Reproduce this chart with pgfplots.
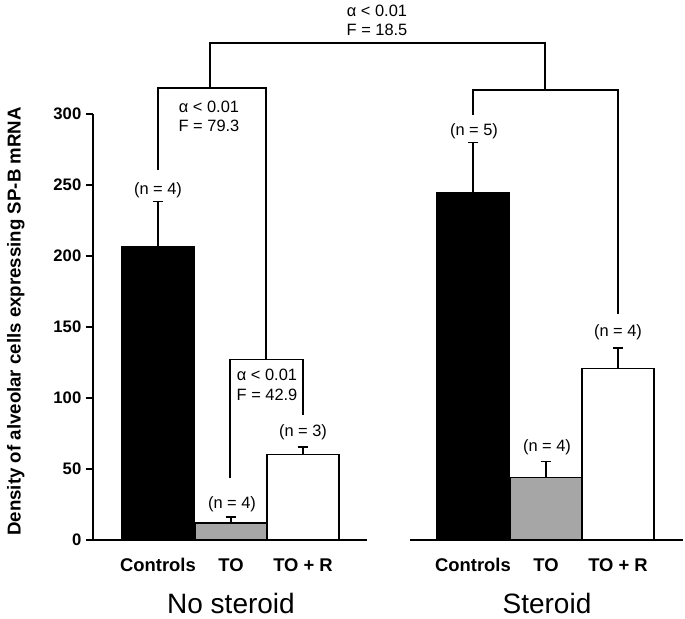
\documentclass[border=0pt]{standalone}
\usepackage{fontspec}
\setmainfont{Liberation Sans}
\usepackage{pgfplots}
\pgfplotsset{compat=1.18}
\definecolor{toGray}{HTML}{A6A6A6}
\newcommand{\ann}{\fontsize{12.3}{14}\selectfont}
\begin{document}
\begin{tikzpicture}
\begin{axis}[
  scale only axis,
  width=442.5pt, height=319.5pt,
  xmin=93, xmax=683, ymin=0, ymax=300,
  clip=false,
  axis y line*=left,
  axis x line*=bottom,
  x axis line style={draw=none},
  axis line style={line width=0.8pt, black},
  ytick={0,50,...,300},
  tick align=outside,
  major tick length=5.25pt,
  major y tick style={line width=0.8pt, black},
  major x tick style={draw=none},
  xtick={158,231,303,473,546,618},
  xticklabels={Controls,TO,TO + R,Controls,TO,TO + R},
  xticklabel style={anchor=base, yshift=-18pt, font=\fontsize{13.8}{16}\selectfont\bfseries},
  /pgf/number format/assume math mode=true,
  yticklabel style={font=\fontsize{12.5}{14}\selectfont\bfseries},
  ylabel={Density of alveolar cells expressing SP-B mRNA},
  ylabel style={at={(axis description cs:-0.1225,0.513)}, anchor=base, font=\fontsize{14}{16}\selectfont\bfseries},
  ybar, bar shift=0pt, bar width=72,
  error bars/y dir=plus, error bars/y explicit,
  error bars/error mark=-,
  error bars/error mark options={rotate=90, mark size=4.1pt, line width=0.8pt, black},
  error bars/error bar style={line width=0.8pt, black},
]
% Controls
\addplot[fill=black, draw=black, line width=0.8pt] coordinates {(158,206.6) +- (0,32.1) (473,244.6) +- (0,35.2)};
% TO
\addplot[fill=toGray, draw=black, line width=0.8pt] coordinates {(231,12.0) +- (0,4.2) (546,43.7) +- (0,11.3)};
% TO + R
\addplot[fill=white, draw=black, line width=0.8pt] coordinates {(303,60.0) +- (0,5.5) (618,121.1) +- (0,14.1)};

% baselines
\draw[line width=0.8pt] (axis cs:93,0) -- (axis cs:367,0);
\draw[line width=0.8pt] (axis cs:410,0) -- (axis cs:683,0);

% brackets
\draw[line width=0.8pt] (axis cs:210,318.3) -- (axis cs:210,350.0) -- (axis cs:545,350.0) -- (axis cs:545,316.9);
\draw[line width=0.8pt] (axis cs:158,260.6) -- (axis cs:158,318.3) -- (axis cs:266,318.3) -- (axis cs:266,126.8);
\draw[line width=0.8pt] (axis cs:230,43.7) -- (axis cs:230,126.8) -- (axis cs:303,126.8) -- (axis cs:303,88.0);
\draw[line width=0.8pt] (axis cs:473,299.3) -- (axis cs:473,316.9) -- (axis cs:618,316.9) -- (axis cs:618,159.2);

% annotations
\node[anchor=base, font=\ann] at (axis cs:377,369.0) {α < 0.01};
\node[anchor=base, font=\ann] at (axis cs:377,355.0) {F = 18.5};
\node[anchor=base, font=\ann] at (axis cs:209,301.4) {α < 0.01};
\node[anchor=base, font=\ann] at (axis cs:209,288.0) {F = 79.3};
\node[anchor=base, font=\ann] at (axis cs:267,112.0) {α < 0.01};
\node[anchor=base, font=\ann] at (axis cs:267,97.9) {F = 42.9};
\node[anchor=base, font=\ann] at (axis cs:158,243.0) {(n = 4)};
\node[anchor=base, font=\ann] at (axis cs:232,22.5) {(n = 4)};
\node[anchor=base, font=\ann] at (axis cs:303,73.2) {(n = 3)};
\node[anchor=base, font=\ann] at (axis cs:474,285.2) {(n = 5)};
\node[anchor=base, font=\ann] at (axis cs:547,62.0) {(n = 4)};
\node[anchor=base, font=\ann] at (axis cs:618,143.0) {(n = 4)};

\node[anchor=base, font=\fontsize{21}{24}\selectfont] at (axis cs:231,-52.1) {No steroid};
\node[anchor=base, font=\fontsize{21}{24}\selectfont] at (axis cs:547,-52.1) {Steroid};

\coordinate (BL) at (axis cs:0,-55.6);
\coordinate (TR) at (axis cs:685,380.3);
\end{axis}
\pgfresetboundingbox
\path[use as bounding box] (BL) rectangle (TR);
\end{tikzpicture}
\end{document}
